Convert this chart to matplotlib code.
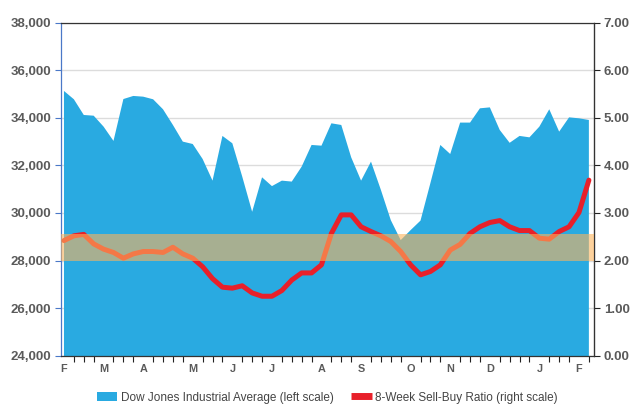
import matplotlib
matplotlib.use('Agg')
import matplotlib.pyplot as plt
from matplotlib.patches import Patch
from matplotlib.lines import Line2D
from matplotlib.font_manager import FontProperties

# weekly values, Feb to Feb
dow = [35130, 34780, 34120, 34090, 33630, 33030, 34790, 34920, 34890, 34780,
       34360, 33700, 33000, 32900, 32270, 31360, 33240, 32930, 31530, 30050,
       31500, 31130, 31360, 31320, 31950, 32860, 32830, 33770, 33700, 32340,
       31360, 32160, 30970, 29700, 28860, 29280, 29680, 31260, 32860, 32480,
       33800, 33800, 34400, 34440, 33490, 32950, 33240, 33180, 33630, 34360,
       33420, 34020, 33980, 33910]
ratio = [2.42, 2.52, 2.55, 2.35, 2.24, 2.17, 2.05, 2.14, 2.19, 2.19,
         2.17, 2.28, 2.14, 2.05, 1.87, 1.62, 1.44, 1.42, 1.47, 1.32,
         1.25, 1.25, 1.37, 1.59, 1.74, 1.74, 1.91, 2.57, 2.96, 2.96,
         2.71, 2.61, 2.52, 2.40, 2.19, 1.91, 1.70, 1.77, 1.91, 2.22,
         2.34, 2.57, 2.71, 2.80, 2.84, 2.71, 2.63, 2.63, 2.47, 2.45,
         2.61, 2.71, 3.01, 3.69]
month_labels = ['F', 'M', 'A', 'M', 'J', 'J', 'A', 'S', 'O', 'N', 'D', 'J', 'F']
month_pos = [0, 4, 8, 13, 17, 21, 26, 30, 35, 39, 43, 48, 52]
band = (2.0, 2.55)

BLUE = '#29AAE1'
RED = '#E8202A'
GREY = '#5a5a5a'

fig = plt.figure(figsize=(6.31, 4.05), dpi=100)
ax = fig.add_axes([0.0962, 0.1217, 0.8452, 0.8223])
ax2 = ax.twinx()

x = list(range(len(dow)))
ax.fill_between(x, 0, dow, color=BLUE, linewidth=0, zorder=2)
ax.set_ylim(24000, 38000)
ax.set_yticks(range(24000, 38001, 2000))
ax.set_yticklabels([f'{v:,}' for v in range(24000, 38001, 2000)])
ax.grid(axis='y', color='#dcdcdc', linewidth=1, zorder=0)
ax.set_axisbelow(True)
ax.set_xlim(-0.33, len(dow) - 1 + 0.52)

# line sits under the band, so it turns orange where they overlap
ax2.plot(x, ratio, color=RED, linewidth=3.6, solid_capstyle='round',
         solid_joinstyle='round', zorder=2)
ax2.axhspan(band[0], band[1], color='#FDB45C', alpha=0.6, linewidth=0, zorder=3)
ax2.set_ylim(0, 7)
ax2.set_yticks([i for i in range(8)])
ax2.set_yticklabels([f'{i:.2f}' for i in range(8)])

# x axis
ax.set_xticks(month_pos)
ax.set_xticklabels(month_labels)
ax.set_xticks(x, minor=True)
ax.tick_params(axis='x', which='major', length=0, pad=6)
ax.tick_params(axis='x', which='minor', length=4, width=0.8, color='#222222')

tick_font = dict(fontfamily='Liberation Sans', fontweight='bold')
for lab in ax.get_yticklabels() + ax2.get_yticklabels():
    lab.set(**tick_font, fontsize=9.5, color=GREY)
for lab in ax.get_xticklabels():
    lab.set(**tick_font, fontsize=7.8, color=GREY)

ax.tick_params(axis='y', length=4, width=0.8, color='#4a78c8', pad=3)
ax2.tick_params(axis='y', length=4, width=0.8, color='#222222', pad=3)

ax.spines['left'].set_color('#4a78c8')
ax.spines['left'].set_linewidth(0.9)
for sp in ['top', 'bottom']:
    ax.spines[sp].set_color('#333333')
    ax.spines[sp].set_linewidth(0.9)
ax2.spines['right'].set_color('#333333')
ax2.spines['right'].set_linewidth(0.9)
ax2.spines['left'].set_visible(False)
ax2.spines['top'].set_visible(False)
ax2.spines['bottom'].set_visible(False)

handles = [Patch(facecolor=BLUE, edgecolor='none'),
           Line2D([], [], color=RED, linewidth=5, solid_capstyle='butt')]
labels = ['Dow Jones Industrial Average (left scale)',
          '8-Week Sell-Buy Ratio (right scale)']
leg_font = FontProperties(family=['Liberation Sans Narrow', 'Liberation Sans'], size=8.5)
fig.legend(handles, labels, loc='center', bbox_to_anchor=(0.519, 0.018), ncol=2,
           frameon=False, prop=leg_font, handlelength=1.7, handleheight=0.8,
           handletextpad=0.3, columnspacing=1.5, labelcolor='#444444')

fig.savefig('out.png', dpi=100)
